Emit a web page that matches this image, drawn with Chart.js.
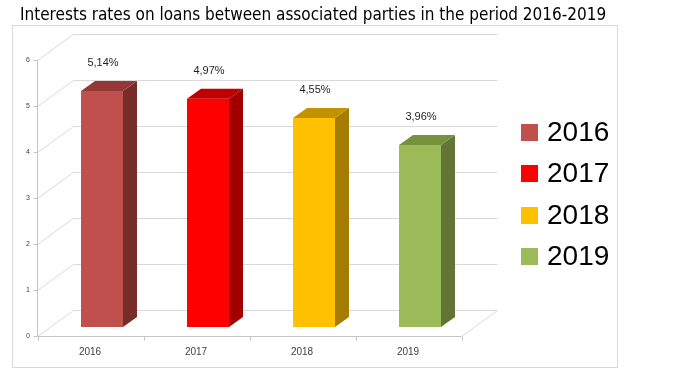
<!DOCTYPE html>
<html>
<head>
<meta charset="utf-8">
<script src="https://cdn.jsdelivr.net/npm/chart.js@4"></script>
<style>
  html, body { margin: 0; padding: 0; background: #fff; }
  #wrap { width: 678px; height: 381px; }
</style>
</head>
<body>
<div id="wrap"><canvas id="chart" width="678" height="381"></canvas></div>
<script>
// ── Data ──────────────────────────────────────────────────
const years = ['2016', '2017', '2018', '2019'];
const rates = [5.14, 4.97, 4.55, 3.96];
const yTicks = [0, 1, 2, 3, 4, 5, 6];

// ── Palette: front / top / side faces ─────────────────────
const frontColors = ['#C0504D', '#FF0000', '#FFC000', '#9BBB59'];
const topColors = ['#953735', '#C00000', '#C39200', '#76923C'];
const sideColors = ['#772C2A', '#A20000', '#A67C00', '#617535'];

const DEPTH = { x: 36, y: -26 };     // front edge -> back wall
const FRONT = { x: -12, y: 9 };      // bar plane -> front edge
const BAR_DEPTH = { x: 14, y: -10 };
const GRID = '#D9D9D9';
const AXIS = '#C4C4C4';
const FONT = '"Liberation Sans", Arial, sans-serif';

const fmt = v => v.toFixed(2).replace('.', ',') + '%';

// ── 3D walls, bar faces, labels, legend ───────────────────
const threeD = {
  id: 'threeD',
  beforeDraw(chart) {
    const ctx = chart.ctx;
    ctx.save();
    ctx.strokeStyle = '#D9D9D9';
    ctx.lineWidth = 1;
    ctx.strokeRect(12.5, 25.5, 605, 342);
    ctx.restore();
  },
  beforeDatasetsDraw(chart) {
    const { ctx, chartArea, scales: { y } } = chart;
    const left = Math.round(chartArea.left + FRONT.x) + 0.5;
    const right = Math.round(chartArea.right + FRONT.x) + 0.5;
    const fy = v => Math.round(y.getPixelForValue(v) + FRONT.y) + 0.5;
    ctx.save();
    ctx.lineWidth = 1;

    // back wall gridlines + left wall diagonals
    ctx.strokeStyle = GRID;
    yTicks.forEach(v => {
      const py = fy(v);
      ctx.beginPath();
      ctx.moveTo(left, py);
      ctx.lineTo(left + DEPTH.x, py + DEPTH.y);
      ctx.lineTo(right + DEPTH.x, py + DEPTH.y);
      ctx.stroke();
    });
    // floor right edge
    const y0 = fy(0);
    ctx.beginPath();
    ctx.moveTo(right, y0);
    ctx.lineTo(right + DEPTH.x, y0 + DEPTH.y);
    ctx.stroke();

    // front axes
    ctx.strokeStyle = AXIS;
    ctx.beginPath();
    ctx.moveTo(left, fy(yTicks[yTicks.length - 1]));
    ctx.lineTo(left, y0);
    ctx.lineTo(right, y0);
    yTicks.forEach(v => {
      ctx.moveTo(left - 4, fy(v));
      ctx.lineTo(left, fy(v));
    });
    for (let i = 0; i <= years.length; i++) {
      const px = Math.round(left + i * (right - left) / years.length) + 0.5;
      ctx.moveTo(px, y0);
      ctx.lineTo(px, y0 + 4);
    }
    ctx.stroke();
    ctx.restore();
  },
  afterDatasetsDraw(chart) {
    const ctx = chart.ctx;
    const meta = chart.getDatasetMeta(0);
    ctx.save();
    meta.data.forEach((bar, i) => {
      const { x, y: top, base, width } = bar.getProps(['x', 'y', 'base', 'width'], true);
      const l = x - width / 2, r = x + width / 2;
      // side face
      ctx.fillStyle = sideColors[i];
      ctx.beginPath();
      ctx.moveTo(r, top);
      ctx.lineTo(r + BAR_DEPTH.x, top + BAR_DEPTH.y);
      ctx.lineTo(r + BAR_DEPTH.x, base + BAR_DEPTH.y);
      ctx.lineTo(r, base);
      ctx.closePath();
      ctx.fill();
      // top face
      ctx.fillStyle = topColors[i];
      ctx.beginPath();
      ctx.moveTo(l, top);
      ctx.lineTo(l + BAR_DEPTH.x, top + BAR_DEPTH.y);
      ctx.lineTo(r + BAR_DEPTH.x, top + BAR_DEPTH.y);
      ctx.lineTo(r, top);
      ctx.closePath();
      ctx.fill();
      // value label
      ctx.fillStyle = '#1f1f1f';
      ctx.font = '11px ' + FONT;
      ctx.textAlign = 'center';
      ctx.textBaseline = 'middle';
      ctx.fillText(fmt(rates[i]), x + 1, top - 28);
    });
    ctx.restore();
  },
  afterDraw(chart) {
    // legend, one entry per year
    const ctx = chart.ctx;
    ctx.save();
    ctx.font = '28px ' + FONT;
    ctx.textBaseline = 'middle';
    ctx.textAlign = 'left';
    years.forEach((yr, i) => {
      const cy = 132 + i * 41.5;
      ctx.fillStyle = frontColors[i];
      ctx.fillRect(521, Math.round(cy - 8.5), 17, 17);
      ctx.fillStyle = '#000';
      ctx.fillText(yr, 547, cy + 1);
    });
    ctx.restore();
  }
};

// ── Chart ─────────────────────────────────────────────────
new Chart(document.getElementById('chart'), {
  type: 'bar',
  data: {
    labels: years,
    datasets: [{
      data: rates,
      backgroundColor: frontColors,
      borderWidth: 0,
      barPercentage: 0.396,
      categoryPercentage: 1
    }]
  },
  options: {
    responsive: false,
    animation: false,
    devicePixelRatio: 1,
    layout: { padding: { left: 20, right: 0, top: 0, bottom: 0 } },
    plugins: {
      legend: { display: false },
      tooltip: { enabled: false },
      title: {
        display: true,
        text: 'Interests rates on loans between associated parties in the period 2016-2019',
        align: 'start',
        color: '#000',
        font: { family: '"Liberation Sans Narrow", "DejaVu Sans Condensed", sans-serif', size: 17, weight: 'normal' },
        padding: { top: 5, bottom: 26 }
      }
    },
    scales: {
      x: {
        grid: { display: false, drawTicks: false },
        border: { display: false },
        ticks: { color: '#404040', font: { family: FONT, size: 10 }, padding: 19, labelOffset: -12 },
        afterFit: s => { s.height = 54; }
      },
      y: {
        min: 0,
        max: 6,
        grid: { display: false, drawTicks: false },
        border: { display: false },
        ticks: { stepSize: 1, color: '#404040', font: { family: FONT, size: 7 }, padding: 19, labelOffset: 9 },
        afterFit: s => { s.width = 29; }
      },
      pad: {
        type: 'linear',
        position: 'right',
        grid: { display: false, drawTicks: false },
        border: { display: false },
        ticks: { display: false },
        afterFit: s => { s.width = 205; }
      }
    }
  },
  plugins: [threeD]
});
</script>
</body>
</html>
